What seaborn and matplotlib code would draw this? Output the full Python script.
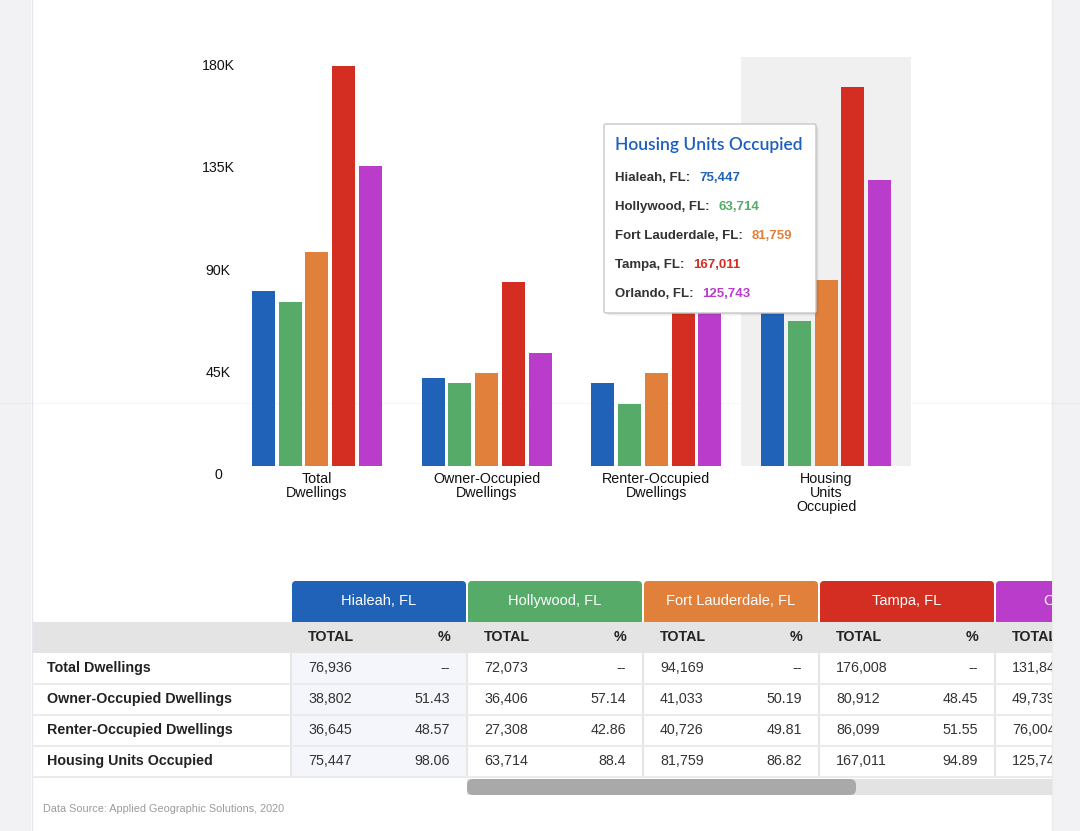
import numpy as np
import pandas as pd
import matplotlib
matplotlib.use("Agg")
import matplotlib.pyplot as plt
import matplotlib.transforms as mtransforms
from matplotlib.patches import Rectangle, FancyBboxPatch
import seaborn as sns

# ---------------- data ----------------
categories = ["Total Dwellings", "Owner-Occupied Dwellings",
              "Renter-Occupied Dwellings", "Housing Units Occupied"]
category_ticklabels = ["Total\nDwellings", "Owner-Occupied\nDwellings",
                       "Renter-Occupied\nDwellings", "Housing\nUnits\nOccupied"]
cities = ["Hialeah, FL", "Hollywood, FL", "Fort Lauderdale, FL", "Tampa, FL", "Orlando, FL"]
city_colors = ["#2062b8", "#55ab67", "#e0803a", "#d32e21", "#b93dca"]

hialeah = [76936, 38802, 36645, 75447]
hollywood = [72073, 36406, 27308, 63714]
fort_lauderdale = [94169, 41033, 40726, 81759]
tampa = [176008, 80912, 86099, 167011]
orlando = [131845, 49739, 76004, 125743]

hialeah_pct = ["--", "51.43", "48.57", "98.06"]
hollywood_pct = ["--", "57.14", "42.86", "88.4"]
fort_lauderdale_pct = ["--", "50.19", "49.81", "86.82"]
tampa_pct = ["--", "48.45", "51.55", "94.89"]

yticks = [0, 45000, 90000, 135000, 180000]
ytick_labels = ["0", "45K", "90K", "135K", "180K"]

tooltip_title = "Housing Units Occupied"
source_text = "Data Source: Applied Geographic Solutions, 2020"

series = [hialeah, hollywood, fort_lauderdale, tampa, orlando]
pcts = [hialeah_pct, hollywood_pct, fort_lauderdale_pct, tampa_pct, None]

df = pd.DataFrame({
    "category": np.tile(categories, len(cities)),
    "city": np.repeat(cities, len(categories)),
    "value": np.concatenate([np.array(s) for s in series]),
})

# ---------------- style ----------------
sns.set_theme(style="white")
plt.rcParams["font.family"] = ["Liberation Sans", "DejaVu Sans"]

W, H = 1080, 831
fig = plt.figure(figsize=(W / 100, H / 100), dpi=100)
fig.patch.set_facecolor("white")


def px_axes(x0, y0, x1, y1, z):
    a = fig.add_axes([x0 / W, 1 - y1 / H, (x1 - x0) / W, (y1 - y0) / H])
    a.set_xlim(x0, x1)
    a.set_ylim(y1, y0)
    a.axis("off")
    a.set_zorder(z)
    a.patch.set_alpha(0)
    return a


# page background
bg = px_axes(0, 0, W, H, 0)
bg.add_patch(Rectangle((0, 0), 31, H, fc="#f2f1f3", ec="none"))
bg.add_patch(Rectangle((1052, 0), 28, H, fc="#f2f1f3", ec="none"))
bg.plot([31.5, 31.5], [0, H], color="#e4e6ee", lw=1)
bg.plot([1052, 1052], [0, H], color="#ebebeb", lw=1)
bg.plot([0, W], [403, 403], color=(0, 0, 0, 0.03), lw=1)

# ---------------- bar chart ----------------
ax = fig.add_axes([232 / W, 1 - 466 / H, 679 / W, 409 / H])
ax.set_zorder(1)
ax.patch.set_alpha(0)
ax.axvspan(2.5, 3.5, color="#f0f0f0", zorder=0, lw=0)
sns.barplot(data=df, x="category", y="value", hue="city", order=categories,
            hue_order=cities, palette=city_colors, saturation=1, width=0.788,
            gap=0.14, linewidth=0, legend=False, ax=ax, zorder=2)
ax.set_xlim(-0.5, 3.5)
ax.set_ylim(0, 180000)
for s in ax.spines.values():
    s.set_visible(False)
ax.grid(False)
ax.set_xlabel("")
ax.set_ylabel("")
ax.set_xticks(range(len(categories)))
ax.set_xticklabels(category_ticklabels, fontsize=10.3, linespacing=1.0, color="#111111")
ax.tick_params(axis="x", length=0, pad=4)
ax.set_yticks(yticks)
ax.set_yticklabels(ytick_labels, fontsize=10.2, color="#111111")
ax.tick_params(axis="y", length=0, pad=10)
offset = mtransforms.ScaledTranslation(0, -7.5 / 100, fig.dpi_scale_trans)
for lbl in ax.get_yticklabels():
    lbl.set_ha("center")
    lbl.set_transform(lbl.get_transform() + offset)

# ---------------- table ----------------
tab = px_axes(31, 540, 1052, H, 2)
col_w, col_step, col0 = 174, 176, 292
row_y = [668, 699, 730, 761]

tab.add_patch(Rectangle((33, 622), 1019, 31, fc="#e4e4e4", ec="none", zorder=2))
tab.add_patch(Rectangle((col0, 653), col_w, 124, fc="#f4f6fb", ec="none", zorder=1))

for i, (city, col) in enumerate(zip(cities, city_colors)):
    L = col0 + col_step * i
    tab.add_patch(FancyBboxPatch((L, 581), col_w, 44,
                                 boxstyle="round,pad=0,rounding_size=4",
                                 fc=col, ec="none", zorder=1))
    tab.text(L + col_w / 2, 601, city, color="white", fontsize=10.5,
             ha="center", va="center", clip_on=True, zorder=3)
    tab.text(L + 16, 637, "TOTAL", color="#222222", fontsize=10.3,
             fontweight="bold", ha="left", va="center", clip_on=True, zorder=3)
    tab.text(L + 158, 637, "%", color="#222222", fontsize=10.3,
             fontweight="bold", ha="right", va="center", clip_on=True, zorder=3)
    tab.plot([L - 1, L - 1], [653, 777], color="#e6e6e6", lw=1.5, zorder=2)
    for r, y in enumerate(row_y):
        tab.text(L + 16, y, f"{series[i][r]:,}", color="#333333", fontsize=10.3,
                 ha="left", va="center", clip_on=True, zorder=3)
        if pcts[i] is not None:
            tab.text(L + 158, y, pcts[i][r], color="#333333", fontsize=10.3,
                     ha="right", va="center", clip_on=True, zorder=3)

for r, y in enumerate(row_y):
    tab.text(47, y, categories[r], color="#222222", fontsize=10.3,
             fontweight="bold", ha="left", va="center", zorder=3)
    tab.plot([33, 1052], [y + 16, y + 16], color="#ebebeb", lw=1.5, zorder=2)

# scrollbar
tab.add_patch(Rectangle((467, 779), 585, 16, fc="#e3e3e3", ec="none", zorder=2))
tab.add_patch(FancyBboxPatch((467, 779), 389, 16,
                             boxstyle="round,pad=0,rounding_size=6",
                             fc="#a9a9a9", ec="none", zorder=3))

tab.text(43, 809, source_text, color="#9b9b9b", fontsize=7.8,
         ha="left", va="center", zorder=3)

# ---------------- tooltip ----------------
ov = px_axes(0, 0, W, H, 5)
for k, a in enumerate([0.05, 0.04, 0.03]):
    ov.add_patch(FancyBboxPatch((604 + k + 1, 124 + k + 1), 212, 189,
                                boxstyle="round,pad=0,rounding_size=3",
                                fc=(0, 0, 0, a), ec="none", zorder=1))
ov.add_patch(FancyBboxPatch((604, 124), 212, 189,
                            boxstyle="round,pad=0,rounding_size=2",
                            fc="white", ec="#c8c8c8", lw=1, zorder=2))
ov.text(615, 145, tooltip_title, color="#1d5fbf", fontsize=12.5,
        fontweight="semibold", family=["Lato", "DejaVu Sans"],
        ha="left", va="center", zorder=3)
for i, (city, col) in enumerate(zip(cities, city_colors)):
    y = 178 + 29 * i
    t = ov.text(615, y, city + ":", color="#333333", fontsize=9.5,
                fontweight="bold", ha="left", va="center", zorder=3)
    ov.annotate(f"{series[i][3]:,}", xy=(1, 0.5), xycoords=t,
                xytext=(6.5, 0), textcoords="offset points", color=col,
                fontsize=9.5, fontweight="bold", ha="left", va="center", zorder=3)

fig.savefig("out.png", dpi=100)
